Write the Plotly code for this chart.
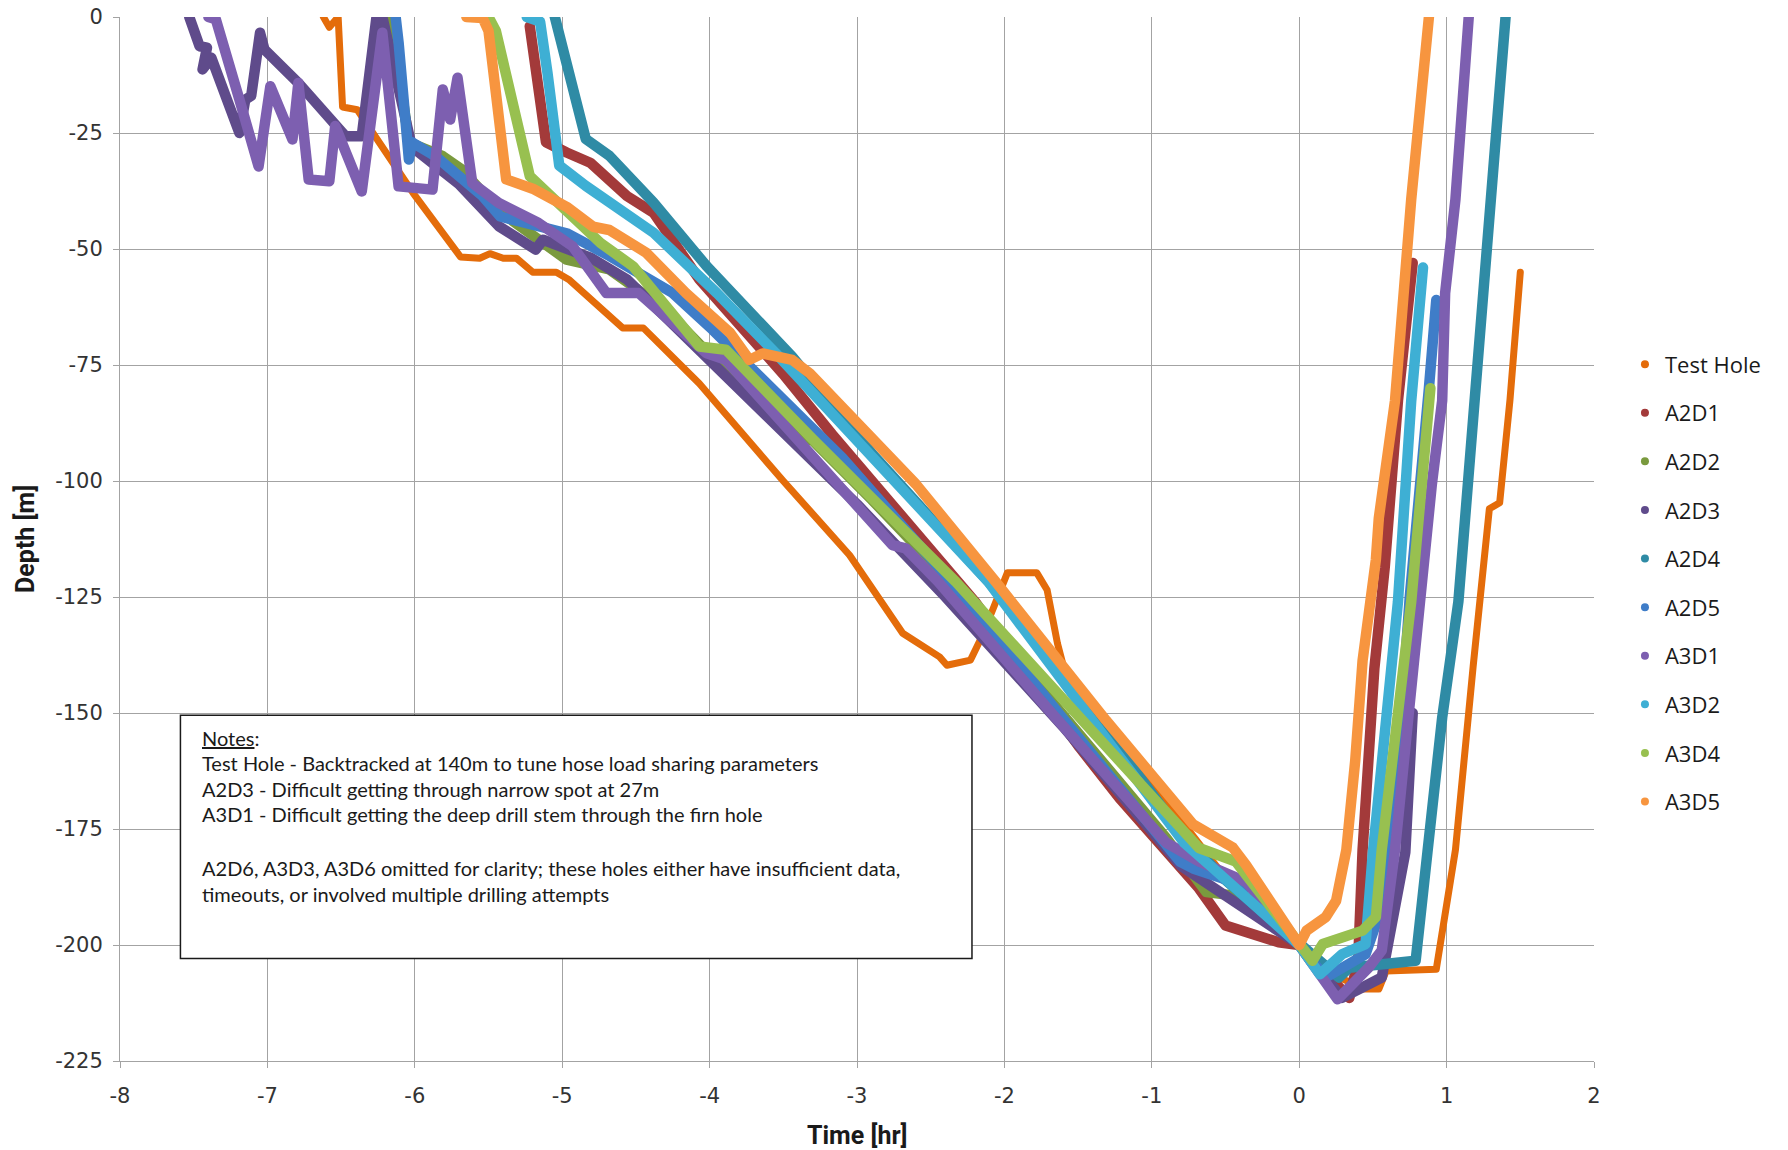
import plotly.graph_objects as go

# ---------------- data (time in hours relative to bottom, depth in m) ----------------
series_names = ["Test Hole", "A2D1", "A2D2", "A2D3", "A2D4", "A2D5", "A3D1", "A3D2", "A3D4", "A3D5"]

th_t = [-6.62, -6.58, -6.52, -6.49, -6.39, -6.01, -5.69, -5.56, -5.49, -5.40, -5.31, -5.20, -5.04, -4.95,
        -4.59, -4.45, -4.07, -3.50, -3.05, -2.69, -2.44, -2.39, -2.23, -2.16, -2.08, -1.98, -1.78, -1.71,
        -1.64, -1.55, -1.00, -0.33, 0.00, 0.20, 0.38, 0.39, 0.54, 0.59, 0.93, 0.97, 1.02, 1.06, 1.18, 1.29,
        1.36, 1.43, 1.50]
th_d = [0, -2.2, 0, -19.4, -20, -38, -51.7, -52, -51, -52, -52, -55, -55, -56.7,
        -67, -67, -79, -100, -116, -132.8, -137.9, -139.7, -138.6, -134, -127.8, -119.8, -119.8, -123.5,
        -135, -146, -165, -192.5, -200, -206, -208.5, -209.5, -209.5, -205.6, -205.2, -197.6, -186.6, -179.5, -140, -106,
        -104.7, -82.5, -55]

a2d1_t = [-5.22, -5.11, -4.97, -4.81, -4.56, -4.38, -4.07, -3.50, -3.17, -2.20, -1.49, -1.22, -0.68, -0.50,
          -0.14, 0.00, 0.34, 0.40, 0.43, 0.51, 0.58, 0.67, 0.77]
a2d1_d = [-2, -27, -29.2, -31.4, -38.6, -42.2, -56.5, -77, -89.9, -126, -157.4, -168.3, -187.8, -195.8,
          -199.4, -200, -211.4, -203.4, -179.5, -140.4, -118.7, -82.7, -53]

a2d2_t = [-6.16, -6.12, -6.04, -5.81, -5.68, -5.42, -4.97, -4.68, -4.30, -3.90, -3.37, -3.30, -2.90, -2.30,
          -1.50, -0.90, -0.75, -0.63, -0.45, 0.00, 0.09]
a2d2_d = [0, -10, -27, -30, -32.9, -42, -52.3, -54.4, -63, -76, -90.6, -91.3, -104, -124,
          -154, -177, -183.5, -188.6, -189.3, -200, -204]

a2d3_t = [-7.53, -7.46, -7.41, -7.44, -7.38, -7.19, -7.15, -7.11, -7.05, -7.02, -6.79, -6.47, -6.36, -6.26,
          -6.22, -6.12, -6.02, -5.70, -5.43, -5.18, -5.13, -4.80, -4.56, -4.00, -3.00, -2.40, -1.60, -0.80,
          0.00, 0.29, 0.56, 0.72, 0.77]
a2d3_d = [0, -6.3, -6.6, -11.3, -8.8, -25, -17.8, -17, -3.4, -7, -14.2, -25.7, -25.7, 0,
          0, -14, -28, -36, -45.1, -50.1, -48, -52, -56.6, -74, -105, -125, -153, -183,
          -200, -211.4, -207, -180, -150]

a2d4_t = [-5.05, -4.84, -4.68, -4.38, -4.02, -3.80, -3.44, -2.90, -2.10, -1.40, -0.80, -0.50, 0.00, 0.27,
          0.34, 0.79, 0.87, 0.97, 1.08, 1.19, 1.24, 1.28, 1.35, 1.40]
a2d4_d = [0, -26.3, -29.9, -40, -53.7, -60.9, -73.2, -94, -122, -150, -176, -186, -200, -207,
          -204.9, -203.4, -180, -151, -126, -82.7, -56.6, -46.5, -14, 0]

a2d5_t = [-6.13, -6.11, -6.04, -6.02, -5.86, -5.54, -5.42, -4.97, -4.68, -4.25, -3.98, -3.10, -2.36, -1.49,
          -0.81, -0.72, -0.32, 0.00, 0.18, 0.45, 0.58, 0.65, 0.75, 0.88, 0.93]
a2d5_d = [0, -5.5, -30.7, -27, -30, -38.6, -43, -46.6, -51.5, -59.5, -67.4, -95, -121.7, -155.2,
          -182, -183.5, -187.8, -200, -207, -202, -190, -170, -125, -80, -61]

a3d1_t = [-7.40, -7.35, -7.19, -7.06, -6.98, -6.83, -6.79, -6.72, -6.58, -6.54, -6.36, -6.22, -6.11, -5.88,
          -5.81, -5.76, -5.71, -5.61, -5.43, -5.16, -4.93, -4.70, -4.48, -4.02, -3.89, -2.76, -2.67, -2.45,
          -1.68, -0.90, -0.68, -0.36, 0.00, 0.26, 0.47, 0.56, 0.65, 0.79, 0.90, 0.97, 0.99, 1.06, 1.15]
a3d1_d = [0, -0.5, -17.8, -32.2, -14.9, -26.4, -14.2, -35, -35.4, -23.5, -37.6, -3.4, -36.5, -37.2,
          -15.6, -22.1, -13.1, -35.8, -40.1, -44.4, -49.4, -59.5, -59.5, -72.5, -73.9, -113.8, -114.5, -121.7,
          -150, -178, -182, -186.4, -200, -211.7, -204.9, -201.2, -179.5, -133, -100.7, -82.7, -59.5, -39.3, 0]

a3d2_t = [-5.24, -5.15, -5.10, -5.02, -4.84, -4.38, -3.95, -3.55, -2.11, -1.40, -0.78, -0.60, 0.00, 0.14,
          0.29, 0.45, 0.50, 0.67, 0.76, 0.84]
a3d2_d = [0, -1, -12, -32, -36.4, -46.5, -59.5, -72.5, -121.7, -152, -178, -183, -200, -206.3,
          -202, -199.8, -180, -126, -82.7, -54]

a3d4_t = [-5.50, -5.45, -5.22, -5.00, -4.74, -4.52, -4.07, -3.89, -3.30, -2.33, -1.47, -0.68, -0.43, 0.00,
          0.09, 0.16, 0.43, 0.52, 0.56, 0.76, 0.89]
a3d4_d = [0, -3, -34.3, -41, -48.7, -53.7, -71, -71.7, -91, -121.7, -151.6, -179.1, -182, -200,
          -203.4, -199.8, -196.9, -194, -179.5, -126, -80]

a3d5_t = [-5.65, -5.54, -5.50, -5.38, -5.20, -4.97, -4.79, -4.68, -4.43, -4.16, -3.86, -3.73, -3.64, -3.44,
          -3.32, -2.60, -2.06, -1.31, -0.72, -0.45, -0.36, 0.00, 0.05, 0.18, 0.25, 0.32, 0.38, 0.43, 0.52,
          0.54, 0.65, 0.72, 0.76, 0.88]
a3d5_d = [0, -0.2, -3, -35, -37, -40.9, -45.2, -45.9, -50.8, -59.5, -68.1, -73.9, -72.5, -73.9,
          -76.8, -100.7, -121.7, -151.6, -174, -179, -182.8, -200, -196.9, -194, -190.5, -179.5, -160.3, -138.7, -117,
          -108, -82.7, -50, -39.3, 0]

x_ticks = [-8, -7, -6, -5, -4, -3, -2, -1, 0, 1, 2]
x_tick_labels = ["-8", "-7", "-6", "-5", "-4", "-3", "-2", "-1", "0", "1", "2"]
y_ticks = [0, -25, -50, -75, -100, -125, -150, -175, -200, -225]
y_tick_labels = ["0", "-25", "-50", "-75", "-100", "-125", "-150", "-175", "-200", "-225"]

notes_lines = [
    "<u>Notes</u>:",
    "Test Hole - Backtracked at 140m to tune hose load sharing parameters",
    "A2D3 - Difficult getting through narrow spot at 27m",
    "A3D1 - Difficult getting the deep drill stem through the firn hole",
    "A2D6, A3D3, A3D6 omitted for clarity; these holes either have insufficient data,",
    "timeouts, or involved multiple drilling attempts",
]

# ---------------- styling ----------------
colors = ["#E46C0A", "#A33A3A", "#7A9A3E", "#5F4B8B", "#2F8BA5",
          "#3F7DC8", "#7D5FB0", "#3EAFD4", "#98C050", "#F7953F"]
widths = [7, 10.5, 10.5, 10.5, 10.5, 10.5, 10.5, 10.5, 10.5, 10.5]

series = [(th_t, th_d), (a2d1_t, a2d1_d), (a2d2_t, a2d2_d), (a2d3_t, a2d3_d), (a2d4_t, a2d4_d),
          (a2d5_t, a2d5_d), (a3d1_t, a3d1_d), (a3d2_t, a3d2_d), (a3d4_t, a3d4_d), (a3d5_t, a3d5_d)]

fig = go.Figure()
for (t, d), name, c, w in zip(series, series_names, colors, widths):
    fig.add_trace(go.Scatter(x=t, y=d, mode="lines", name=name, showlegend=False,
                             line=dict(color=c, width=w)))
for i, (name, c) in enumerate(zip(series_names, colors)):
    fig.add_trace(go.Scatter(x=[None], y=[None], mode="markers", name=name, legendgroup=f"g{i}",
                             marker=dict(size=8, color=c)))

grid = "#a3a3a3"
tickfont = dict(family="DejaVu Sans", size=21, color="#333333")

fig.update_layout(
    width=1788, height=1150,
    margin=dict(l=120, r=194, t=17, b=89, autoexpand=False),
    paper_bgcolor="white", plot_bgcolor="white",
    showlegend=True,
    legend=dict(x=1.021, xanchor="left", y=0.458, yanchor="middle",
                font=dict(family="Open Sans", size=22, color="#1a1a1a"),
                tracegroupgap=17, bgcolor="rgba(0,0,0,0)"),
    xaxis=dict(range=[-8, 2], tickvals=x_ticks, ticktext=x_tick_labels, showgrid=True,
               gridcolor=grid, gridwidth=1, automargin=False,
               zeroline=False, showline=True, linecolor=grid, linewidth=1,
               ticks="outside", ticklen=6, tickcolor=grid, tickfont=tickfont, ticklabelstandoff=10),
    yaxis=dict(range=[-225, 0], tickvals=y_ticks, ticktext=y_tick_labels, showgrid=True,
               gridcolor=grid, gridwidth=1, automargin=False,
               zeroline=False, showline=True, linecolor=grid, linewidth=1,
               ticks="outside", ticklen=6, tickcolor=grid, tickfont=tickfont, ticklabelstandoff=6),
)

# axis titles
fig.add_annotation(text="<b>Time [hr]</b>", xref="paper", yref="paper", x=0.5, y=-0.071,
                   xanchor="center", yanchor="middle", showarrow=False,
                   font=dict(family="Roboto", size=25, color="#1a1a1a"))
fig.add_annotation(text="<b>Depth [m]</b>", xref="paper", yref="paper", x=-0.0645, y=0.5,
                   xanchor="center", yanchor="middle", showarrow=False, textangle=-90,
                   font=dict(family="Roboto", size=25, color="#1a1a1a"))

# notes box
fig.add_shape(type="rect", xref="x", yref="y", x0=-7.59, x1=-2.22, y0=-150.5, y1=-202.9,
              fillcolor="white", line=dict(color="#1a1a1a", width=1.5), layer="above")
note_y = [-155.4, -160.8, -166.4, -171.8, -183.4, -189.0]
for txt, yy in zip(notes_lines, note_y):
    fig.add_annotation(text=txt, xref="x", yref="y", x=-7.457, y=yy, xanchor="left", yanchor="middle",
                       showarrow=False, align="left",
                       font=dict(family="Lato", size=20, color="#1a1a1a"))

post = """
document.body.style.margin='0';
document.querySelectorAll('.scatterlayer .js-line').forEach(function(p){
  p.style.strokeLinejoin='round'; p.style.strokeLinecap='round';
});
"""
fig.write_html("out.html", post_script=post, config={"displayModeBar": False})
